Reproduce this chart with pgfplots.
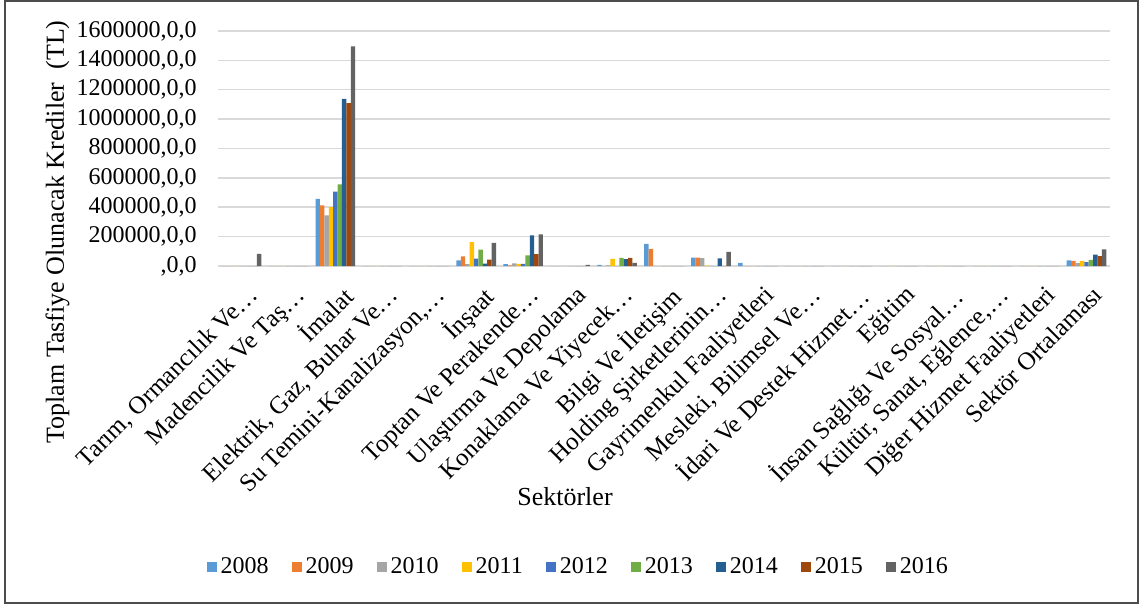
\documentclass[border=0pt]{standalone}
\usepackage{pgfplots}
\usepackage{pgfplotstable}
\pgfplotsset{compat=1.18}
\usepackage{fontspec}
\setmainfont{Liberation Serif}
\newcommand\f{\fontsize{12}{14.4}\selectfont}
\newcommand\g{\fontsize{13}{15.6}\selectfont}
\newcommand\h{\fontsize{12.5}{15}\selectfont}
\definecolor{c08}{HTML}{5B9BD5}
\definecolor{c09}{HTML}{ED7D31}
\definecolor{c10}{HTML}{A5A5A5}
\definecolor{c11}{HTML}{FFC000}
\definecolor{c12}{HTML}{4472C4}
\definecolor{c13}{HTML}{70AD47}
\definecolor{c14}{HTML}{255E91}
\definecolor{c15}{HTML}{9E480E}
\definecolor{c16}{HTML}{636363}
\definecolor{gridc}{HTML}{D9D9D9}
\pgfplotstableread{
x y2008 y2009 y2010 y2011 y2012 y2013 y2014 y2015 y2016
0 0 0 0 0 0 0 0 0 83000
1 0 0 0 0 0 0 0 0 0
2 457000 412000 344000 400000 507000 555000 1138000 1109000 1495000
3 0 0 0 0 0 0 0 0 0
4 0 0 0 0 0 0 0 0 0
5 39000 66000 12000 163000 50000 112000 16000 44000 157000
6 12000 5000 18000 14000 14000 73000 209000 80000 216000
7 0 0 0 0 0 0 0 0 8000
8 8000 0 5000 48000 0 55000 46000 56000 22000
9 150000 117000 0 0 0 0 0 0 0
10 57000 57000 53000 3000 0 0 52000 0 97000
11 21000 0 0 0 0 0 0 0 0
12 0 0 0 0 0 0 0 0 0
13 0 0 0 0 0 0 0 0 0
14 0 0 0 0 0 0 0 0 0
15 0 0 0 0 0 0 0 0 0
16 0 0 0 0 0 0 0 0 0
17 0 0 0 0 0 0 0 0 0
18 39000 35000 20000 35000 27000 41000 77000 68000 114000
}\datatable
\begin{document}
\begin{tikzpicture}
\useasboundingbox (0,0) rectangle (570pt,302.5pt);
\draw[color=black!70, line width=0.75pt] (2.5pt,302pt) rectangle (569pt,1pt);
\begin{axis}[
  at={(109pt,169.5pt)}, anchor=south west,
  scale only axis, width=446pt, height=117.5pt,
  ybar=0pt, bar width=2.2pt,
  xmin=-0.5, xmax=18.5, ymin=0, ymax=1600000,
  xtick={0,...,18},
  xticklabels={{Tarım, Ormancılık Ve…},{Madencilik Ve Taş…},{İmalat},{Elektrik, Gaz, Buhar Ve…},{Su Temini-Kanalizasyon,…},{İnşaat},{Toptan Ve Perakende…},{Ulaştırma Ve Depolama},{Konaklama Ve Yiyecek…},{Bilgi Ve İletişim},{Holding Şirketlerinin…},{Gayrimenkul Faaliyetleri},{Mesleki, Bilimsel Ve…},{İdari Ve Destek Hizmet…},{Eğitim},{İnsan Sağlığı Ve Sosyal…},{Kültür, Sanat, Eğlence,…},{Diğer Hizmet Faaliyetleri},{Sektör Ortalaması}},
  ytick={0,200000,...,1600000},
  yticklabels={{,0,0},{200000,0,0},{400000,0,0},{600000,0,0},{800000,0,0},{1000000,0,0},{1200000,0,0},{1400000,0,0},{1600000,0,0}},
  scaled y ticks=false,
  x tick label style={font=\h, inner sep=0pt, xshift=2.5pt, yshift=-4.5pt, rotate=45, anchor=north east},
  y tick label style={font=\f, inner sep=0pt, xshift=-10.5pt, anchor=east},
  axis line style={draw=none},
  tick style={draw=none},
  ymajorgrids, major grid style={draw=gridc, line width=0.75pt},
  xlabel={Sektörler},
  xlabel style={font=\g, at={(axis description cs:0.389,-0.983)}, anchor=center},
  ylabel={Toplam Tasfiye Olunacak Krediler\ \ (TL)},
  ylabel style={font=\g, at={(axis description cs:-0.180,0.145)}, anchor=center},
  legend columns=9,
  legend style={at={(axis description cs:0.405,-1.281)}, anchor=center, draw=none, font=\f,
    /tikz/every even column/.append style={column sep=9.5pt}},
  legend image code/.code={\fill[#1] (0pt,-2.5pt) rectangle (5pt,2.5pt);},
  every axis plot/.append style={draw=none},
]
\addplot[fill=c08] table[x=x,y=y2008]{\datatable};
\addplot[fill=c09] table[x=x,y=y2009]{\datatable};
\addplot[fill=c10] table[x=x,y=y2010]{\datatable};
\addplot[fill=c11] table[x=x,y=y2011]{\datatable};
\addplot[fill=c12] table[x=x,y=y2012]{\datatable};
\addplot[fill=c13] table[x=x,y=y2013]{\datatable};
\addplot[fill=c14] table[x=x,y=y2014]{\datatable};
\addplot[fill=c15] table[x=x,y=y2015]{\datatable};
\addplot[fill=c16] table[x=x,y=y2016]{\datatable};
\legend{2008,2009,2010,2011,2012,2013,2014,2015,2016}
\end{axis}
\end{tikzpicture}
\end{document}
